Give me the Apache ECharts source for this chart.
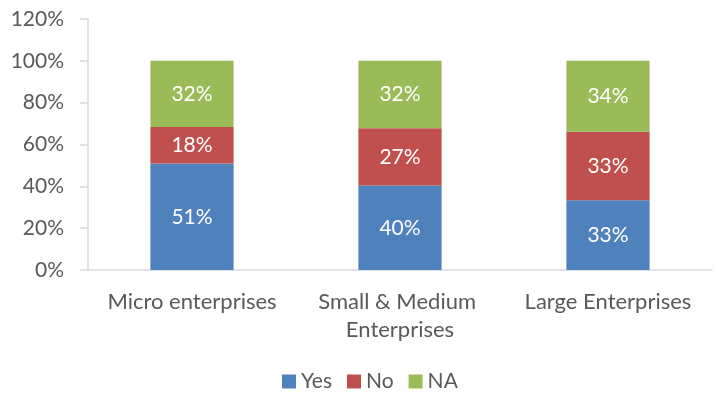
<!DOCTYPE html>
<html>
<head>
<meta charset="utf-8">
<script src="https://cdn.jsdelivr.net/npm/echarts@6/dist/echarts.min.js"></script>
<style>
  html, body { margin: 0; padding: 0; background: #fff; }
  #chart { width: 717px; height: 394px; }
</style>
</head>
<body>
<div id="chart"></div>
<script>
// Share of enterprises answering Yes / No / NA, in percent
const categories = ['Micro enterprises', 'Small & Medium Enterprises', 'Large Enterprises'];
const yesValues = [50.9, 40.4, 33.3];
const noValues = [17.5, 27.4, 32.8];
const naValues = [31.6, 32.2, 33.9];
const seriesNames = ['Yes', 'No', 'NA'];
const seriesColors = ['#4F81BD', '#C0504D', '#9BBB59'];

const FONT = 'Lato, "Open Sans", sans-serif';
const TEXT = '#595959';
const chart = echarts.init(document.getElementById('chart'));

function makeSeries(name, data, color) {
  return {
    name: name,
    type: 'bar',
    stack: 'total',
    data: data,
    barWidth: '40%',
    itemStyle: { color: color },
    label: {
      show: true,
      position: 'inside',
      color: '#ffffff',
      fontFamily: FONT,
      fontSize: 21,
      formatter: p => Math.round(p.value) + '%'
    }
  };
}

chart.setOption({
  animation: false,
  grid: { left: 88, right: 5, top: 19, bottom: 124, containLabel: false },
  legend: {
    top: 366,
    left: 277,
    icon: 'rect',
    itemWidth: 14,
    itemHeight: 14,
    itemGap: 15,
    textStyle: { color: TEXT, fontFamily: FONT, fontSize: 21 },
    data: seriesNames
  },
  xAxis: {
    type: 'category',
    data: categories,
    axisLine: { show: true, lineStyle: { color: '#d9d9d9', width: 1.5 } },
    axisTick: { show: false },
    axisLabel: {
      color: TEXT,
      fontFamily: FONT,
      fontSize: 22,
      margin: 18,
      lineHeight: 28,
      width: 195,
      overflow: 'break',
      interval: 0
    }
  },
  yAxis: {
    type: 'value',
    min: 0,
    max: 120,
    interval: 20,
    axisLine: { show: true, lineStyle: { color: '#d9d9d9', width: 1.5 } },
    axisTick: { show: true, length: 8, lineStyle: { color: '#d9d9d9', width: 1.5 } },
    splitLine: { show: false },
    axisLabel: {
      color: TEXT,
      fontFamily: FONT,
      fontSize: 21,
      margin: 24,
      formatter: v => v + '%'
    }
  },
  series: [
    makeSeries(seriesNames[0], yesValues, seriesColors[0]),
    makeSeries(seriesNames[1], noValues, seriesColors[1]),
    makeSeries(seriesNames[2], naValues, seriesColors[2])
  ]
});
</script>
</body>
</html>
